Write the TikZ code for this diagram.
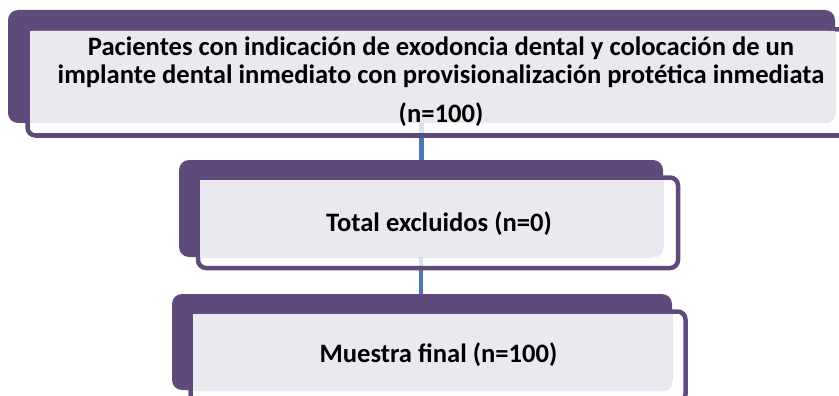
\documentclass[tikz,border=0pt]{standalone}
\usepackage{fontspec}
\setmainfont{Carlito}
\usepackage{tikz}
\usetikzlibrary{backgrounds}

\definecolor{boxpurple}{RGB}{96,74,123}
\definecolor{boxlilac}{RGB}{235,233,240}
\definecolor{linkblue}{RGB}{74,122,180}

\tikzset{
  backbox/.style={fill=boxpurple, rounded corners=10pt, inner sep=0pt},
  framebox/.style={draw=boxpurple, line width=4.5pt, fill=white, fill opacity=0.8, rounded corners=8pt, inner sep=0pt},
  lilac/.style={fill=boxlilac},
  label/.style={font=\fontsize{26.6}{28}\selectfont\bfseries, align=center, inner sep=0pt},
  link/.style={draw=linkblue, line width=4.5pt}
}

\begin{document}
\begin{tikzpicture}[x=1pt,y=-1pt]
\useasboundingbox (0,0) rectangle (839,396);

% first step
\node [framebox, minimum width=832.5pt, minimum height=106pt] (frameA) at (443.75,82.5) {};
\node [backbox, minimum width=827pt, minimum height=113pt] (backA) at (421.5,66.5) {};
\fill [lilac, rounded corners=8pt] (30,31) rectangle (835,123);
\fill [lilac] (30,31) rectangle (835,113) (30,31) rectangle (825,123);
\node [label, anchor=base] (textA) at (441,122)
  {Pacientes con indicación de exodoncia dental y colocación de un\\
   implante dental inmediato con provisionalización protética inmediata\\[11pt]
   (n=100)};

% second step
\node [framebox, minimum width=480pt, minimum height=90.5pt] (frameB) at (438,222.75) {};
\node [backbox, minimum width=484pt, minimum height=97pt] (backB) at (421,208.5) {};
\fill [lilac, rounded corners=8pt] (200,180) rectangle (663,257);
\fill [lilac] (200,180) rectangle (663,247) (200,180) rectangle (653,257);
\node [label] (textB) at (439,224) {Total excluidos (n=0)};

% third step
\node [framebox, minimum width=495pt, minimum height=90.5pt] (frameC) at (438,356.75) {};
\node [backbox, minimum width=500pt, minimum height=96pt] (backC) at (422,342) {};
\fill [lilac, rounded corners=8pt] (193,314) rectangle (672,391);
\fill [lilac] (193,314) rectangle (672,381) (193,314) rectangle (662,391);
\node [label] (textC) at (438.5,355) {Muestra final (n=100)};

\begin{pgfonlayer}{background}
\draw [link] (backA.south) -- (backA.south |- backB.north);
\draw [link] (backB.south) -- (backB.south |- backC.north);
\end{pgfonlayer}

\end{tikzpicture}
\end{document}
